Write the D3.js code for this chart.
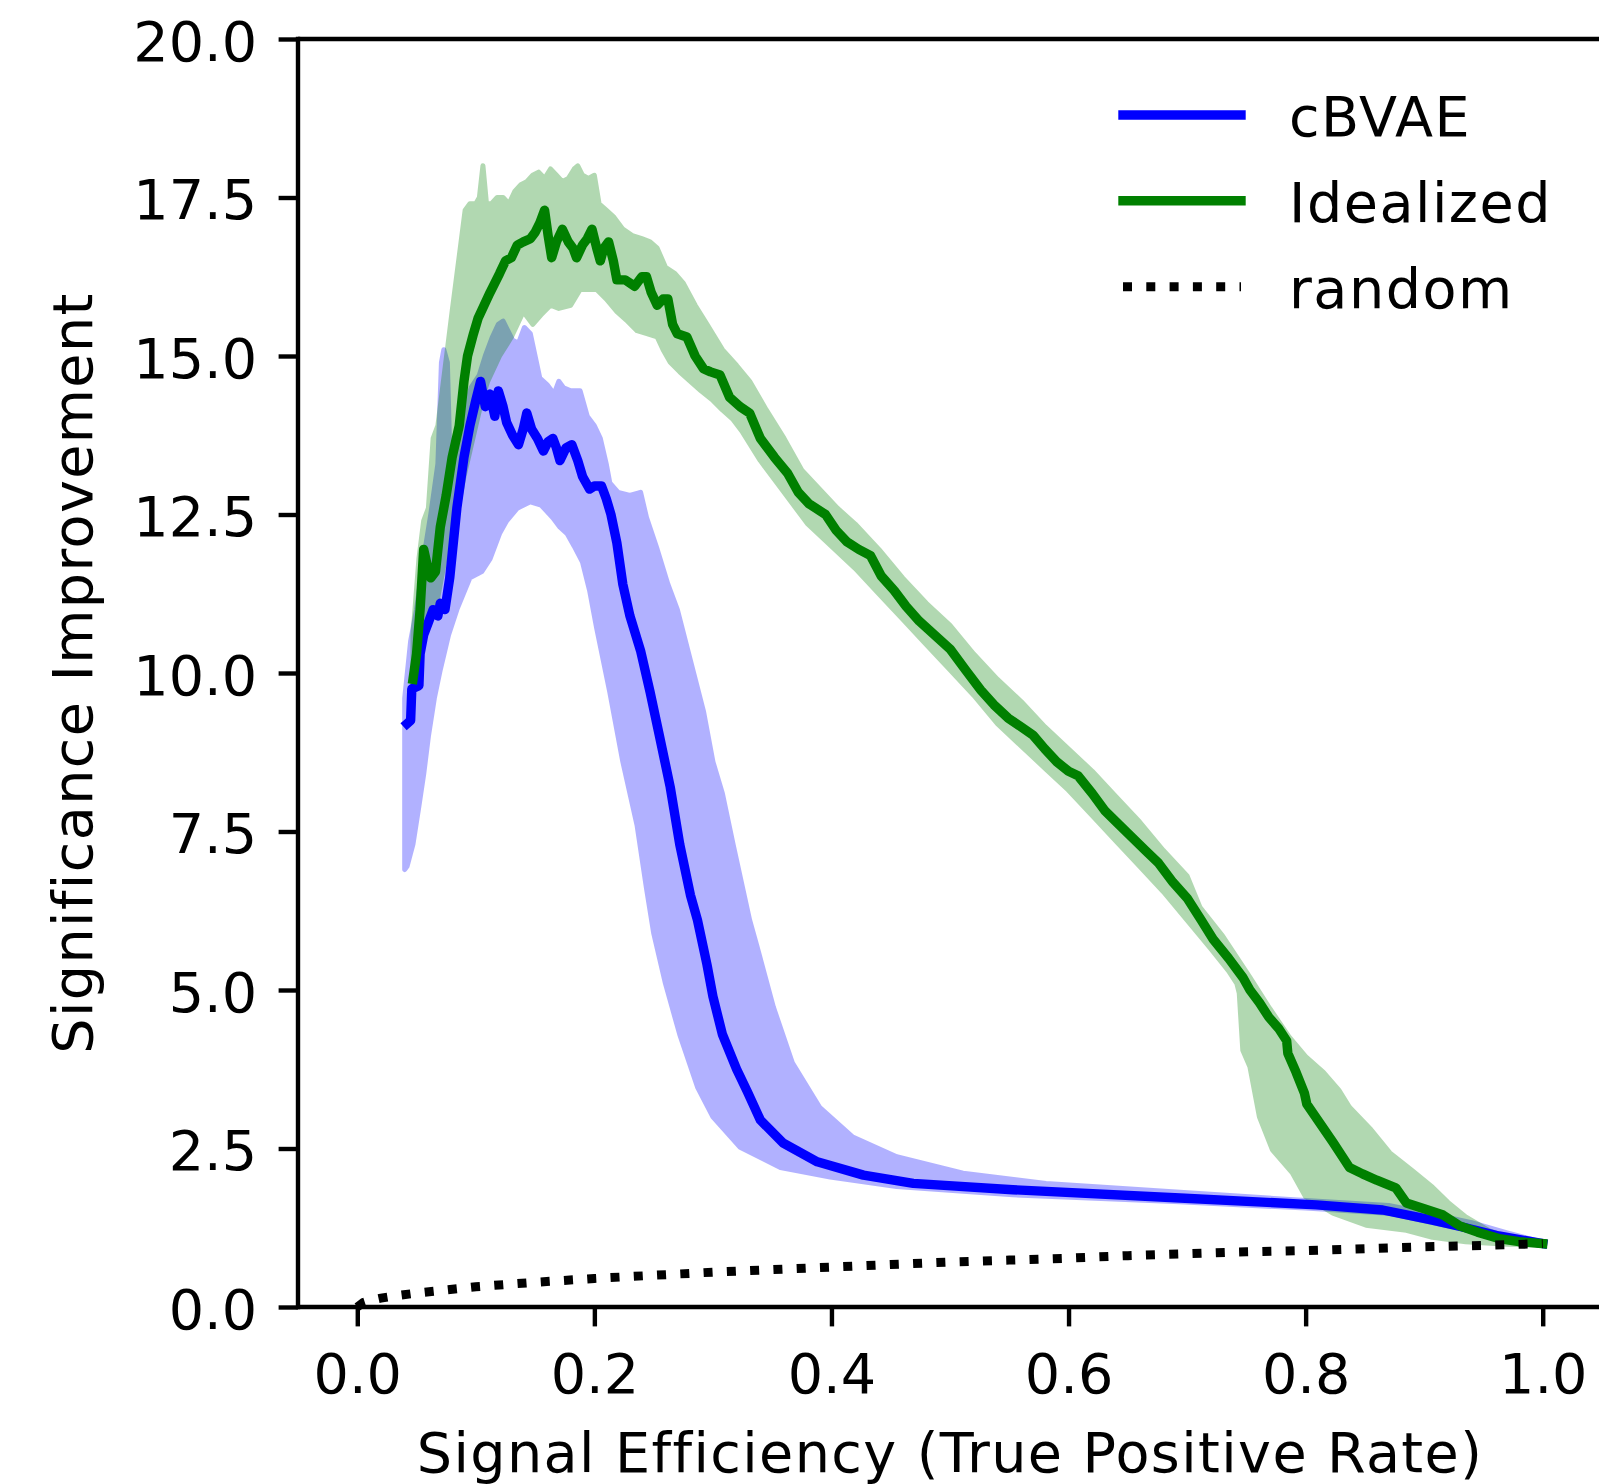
<!DOCTYPE html>
<html>
<head>
<meta charset="utf-8">
<script src="https://cdn.jsdelivr.net/npm/d3@7"></script>
<style>
  body { margin: 0; background: #fff; }
  svg { display: block; font-family: "DejaVu Sans", sans-serif; }
</style>
</head>
<body>
<div id="chart"></div>
<script>
// values

// cBVAE mean curve
cbvaeX = [0.042, 0.045, 0.046, 0.052, 0.053, 0.056, 0.060, 0.064, 0.068, 0.070, 0.074, 0.078, 0.084, 0.090, 0.095, 0.100, 0.104, 0.108, 0.112, 0.116, 0.119, 0.123, 0.126, 0.131, 0.136, 0.140, 0.143, 0.147, 0.152, 0.157, 0.161, 0.165, 0.168, 0.171, 0.176, 0.181, 0.186, 0.190, 0.196, 0.200, 0.206, 0.210, 0.214, 0.219, 0.224, 0.230, 0.239, 0.247, 0.255, 0.264, 0.272, 0.281, 0.287, 0.295, 0.300, 0.308, 0.320, 0.329, 0.340, 0.359, 0.388, 0.427, 0.469, 0.553, 0.694, 0.809, 0.865, 0.907, 0.935, 0.963, 1.0];
cbvaeY = [9.2, 9.25, 9.75, 9.8, 10.3, 10.6, 10.8, 11.0, 10.9, 11.1, 11.0, 11.5, 12.6, 13.4, 13.9, 14.3, 14.6, 14.2, 14.4, 14.05, 14.45, 14.2, 13.95, 13.75, 13.6, 13.85, 14.1, 13.85, 13.7, 13.5, 13.65, 13.7, 13.55, 13.35, 13.55, 13.6, 13.35, 13.1, 12.9, 12.95, 12.95, 12.75, 12.5, 12.05, 11.4, 10.9, 10.35, 9.7, 9.0, 8.2, 7.3, 6.5, 6.1, 5.4, 4.9, 4.3, 3.75, 3.4, 2.95, 2.59, 2.29, 2.08, 1.95, 1.85, 1.72, 1.61, 1.53, 1.37, 1.25, 1.12, 1.0];

// cBVAE spread
cbvaeUpX = [0.040, 0.045, 0.050, 0.056, 0.062, 0.068, 0.071, 0.073, 0.076, 0.078, 0.084, 0.090, 0.096, 0.103, 0.108, 0.114, 0.119, 0.123, 0.127, 0.131, 0.136, 0.141, 0.146, 0.150, 0.154, 0.160, 0.166, 0.170, 0.174, 0.180, 0.188, 0.194, 0.200, 0.205, 0.210, 0.213, 0.220, 0.230, 0.239, 0.244, 0.253, 0.262, 0.270, 0.281, 0.292, 0.300, 0.308, 0.317, 0.331, 0.337, 0.351, 0.367, 0.390, 0.418, 0.455, 0.511, 0.581, 0.694, 0.800, 0.870, 0.910, 0.940, 0.970, 1.0];
cbvaeUpY = [9.6, 10.5, 11.0, 11.8, 12.5, 13.3, 14.9, 15.1, 14.9, 13.5, 13.8, 14.1, 14.5, 14.7, 15.0, 15.3, 15.5, 15.55, 15.4, 15.25, 15.2, 15.45, 15.35, 15.0, 14.65, 14.55, 14.4, 14.6, 14.5, 14.45, 14.45, 14.05, 13.9, 13.7, 13.3, 13.0, 12.85, 12.8, 12.85, 12.45, 11.95, 11.4, 11.0, 10.2, 9.4, 8.6, 8.1, 7.3, 6.1, 5.7, 4.73, 3.85, 3.15, 2.68, 2.37, 2.11, 1.95, 1.81, 1.68, 1.6, 1.45, 1.33, 1.17, 1.02];
cbvaeLowX = [0.040, 0.042, 0.047, 0.052, 0.056, 0.060, 0.065, 0.070, 0.077, 0.084, 0.095, 0.105, 0.112, 0.120, 0.126, 0.135, 0.146, 0.155, 0.165, 0.171, 0.177, 0.183, 0.190, 0.196, 0.202, 0.213, 0.224, 0.236, 0.244, 0.250, 0.260, 0.272, 0.287, 0.300, 0.323, 0.357, 0.399, 0.455, 0.553, 0.694, 0.800, 0.870, 0.910, 0.940, 0.970, 1.0];
cbvaeLowY = [6.9, 6.95, 7.3, 7.9, 8.4, 9.0, 9.6, 10.05, 10.6, 11.0, 11.5, 11.6, 11.8, 12.2, 12.4, 12.6, 12.7, 12.65, 12.45, 12.3, 12.2, 12.0, 11.75, 11.3, 10.7, 9.7, 8.6, 7.6, 6.6, 5.9, 5.1, 4.3, 3.47, 3.0, 2.52, 2.2, 2.05, 1.9, 1.77, 1.66, 1.56, 1.48, 1.32, 1.2, 1.08, 0.98];

// Idealized mean curve
idealX = [0.047, 0.050, 0.053, 0.056, 0.059, 0.062, 0.066, 0.070, 0.075, 0.080, 0.086, 0.090, 0.093, 0.098, 0.102, 0.107, 0.112, 0.116, 0.120, 0.125, 0.130, 0.135, 0.140, 0.146, 0.150, 0.154, 0.158, 0.161, 0.164, 0.168, 0.173, 0.178, 0.182, 0.185, 0.190, 0.194, 0.198, 0.202, 0.205, 0.208, 0.212, 0.216, 0.219, 0.226, 0.234, 0.240, 0.244, 0.248, 0.253, 0.258, 0.262, 0.266, 0.270, 0.278, 0.285, 0.292, 0.298, 0.306, 0.314, 0.323, 0.331, 0.340, 0.352, 0.363, 0.372, 0.381, 0.395, 0.404, 0.413, 0.423, 0.433, 0.442, 0.453, 0.463, 0.474, 0.487, 0.500, 0.513, 0.526, 0.537, 0.549, 0.560, 0.570, 0.580, 0.590, 0.600, 0.608, 0.620, 0.631, 0.643, 0.654, 0.665, 0.676, 0.688, 0.700, 0.712, 0.722, 0.735, 0.747, 0.753, 0.761, 0.769, 0.777, 0.784, 0.785, 0.792, 0.799, 0.801, 0.812, 0.823, 0.837, 0.848, 0.860, 0.876, 0.885, 0.900, 0.916, 0.930, 0.945, 0.963, 0.980, 1.0];
idealY = [9.9, 10.3, 11.0, 11.95, 11.7, 11.5, 11.6, 12.3, 12.8, 13.4, 13.9, 14.6, 15.0, 15.35, 15.6, 15.8, 16.0, 16.15, 16.3, 16.5, 16.55, 16.75, 16.8, 16.85, 16.95, 17.1, 17.3, 16.9, 16.55, 16.8, 17.0, 16.8, 16.7, 16.55, 16.75, 16.85, 17.0, 16.7, 16.5, 16.7, 16.8, 16.5, 16.2, 16.2, 16.1, 16.25, 16.25, 16.0, 15.8, 15.9, 15.9, 15.5, 15.35, 15.3, 15.0, 14.8, 14.75, 14.7, 14.35, 14.2, 14.1, 13.7, 13.4, 13.15, 12.85, 12.67, 12.5, 12.25, 12.07, 11.95, 11.85, 11.53, 11.3, 11.05, 10.82, 10.6, 10.38, 10.05, 9.73, 9.5, 9.29, 9.15, 9.02, 8.8, 8.6, 8.45, 8.38, 8.1, 7.82, 7.6, 7.4, 7.2, 7.0, 6.7, 6.45, 6.1, 5.8, 5.5, 5.2, 5.0, 4.8, 4.57, 4.4, 4.2, 4.0, 3.7, 3.37, 3.2, 2.9, 2.6, 2.2, 2.1, 2.0, 1.88, 1.64, 1.55, 1.45, 1.28, 1.18, 1.08, 1.03, 1.0];

// Idealized spread
idealUpX = [0.047, 0.052, 0.056, 0.060, 0.064, 0.068, 0.080, 0.091, 0.095, 0.100, 0.103, 0.106, 0.109, 0.113, 0.118, 0.123, 0.128, 0.133, 0.138, 0.143, 0.148, 0.153, 0.158, 0.163, 0.168, 0.173, 0.178, 0.183, 0.186, 0.190, 0.195, 0.200, 0.204, 0.210, 0.216, 0.224, 0.232, 0.240, 0.247, 0.253, 0.260, 0.268, 0.275, 0.285, 0.295, 0.308, 0.320, 0.331, 0.345, 0.360, 0.375, 0.390, 0.405, 0.420, 0.440, 0.460, 0.480, 0.500, 0.520, 0.540, 0.560, 0.580, 0.600, 0.620, 0.640, 0.660, 0.680, 0.700, 0.711, 0.730, 0.753, 0.770, 0.786, 0.800, 0.815, 0.828, 0.837, 0.855, 0.871, 0.890, 0.907, 0.920, 0.935, 0.955, 0.977, 1.0];
idealUpY = [10.6, 11.8, 12.4, 12.6, 13.7, 13.9, 15.7, 17.3, 17.4, 17.4, 17.5, 18.0, 17.4, 17.4, 17.5, 17.5, 17.4, 17.6, 17.7, 17.75, 17.85, 17.9, 17.8, 17.95, 17.85, 17.75, 17.8, 17.95, 18.0, 17.85, 17.8, 17.85, 17.4, 17.3, 17.2, 17.0, 16.9, 16.85, 16.8, 16.7, 16.4, 16.3, 16.15, 15.8, 15.5, 15.1, 14.85, 14.6, 14.15, 13.7, 13.2, 12.9, 12.6, 12.35, 11.95, 11.5, 11.1, 10.75, 10.3, 9.9, 9.55, 9.15, 8.8, 8.45, 8.05, 7.65, 7.2, 6.8, 6.3, 5.85, 5.2, 4.7, 4.26, 3.95, 3.7, 3.42, 3.15, 2.8, 2.43, 2.15, 1.89, 1.65, 1.42, 1.2, 1.06, 1.0];
idealLowX = [0.047, 0.052, 0.056, 0.060, 0.065, 0.070, 0.075, 0.080, 0.085, 0.090, 0.095, 0.100, 0.105, 0.110, 0.120, 0.130, 0.140, 0.148, 0.155, 0.163, 0.170, 0.180, 0.188, 0.195, 0.202, 0.210, 0.219, 0.228, 0.236, 0.245, 0.253, 0.258, 0.264, 0.272, 0.281, 0.290, 0.300, 0.308, 0.317, 0.325, 0.340, 0.360, 0.380, 0.400, 0.420, 0.440, 0.460, 0.480, 0.500, 0.520, 0.540, 0.560, 0.580, 0.600, 0.620, 0.640, 0.660, 0.680, 0.700, 0.720, 0.735, 0.742, 0.744, 0.747, 0.753, 0.761, 0.772, 0.789, 0.800, 0.823, 0.851, 0.885, 0.907, 0.935, 0.970, 1.0];
idealLowY = [9.7, 10.2, 10.8, 11.0, 10.9, 11.4, 11.9, 12.3, 12.6, 13.1, 13.5, 13.9, 14.3, 14.6, 15.0, 15.3, 15.7, 15.5, 15.65, 15.8, 15.75, 15.8, 16.05, 16.05, 16.05, 15.9, 15.7, 15.55, 15.4, 15.35, 15.3, 15.1, 14.9, 14.75, 14.6, 14.45, 14.3, 14.15, 14.0, 13.8, 13.35, 12.85, 12.35, 12.0, 11.65, 11.25, 10.85, 10.45, 10.05, 9.65, 9.2, 8.85, 8.5, 8.15, 7.75, 7.35, 6.95, 6.55, 6.1, 5.65, 5.3, 5.1, 4.95, 4.05, 3.79, 3.0, 2.48, 2.11, 1.74, 1.48, 1.29, 1.21, 1.1, 1.03, 0.99, 0.98];

// random baseline
randomX = [0, 0.005, 0.01, 0.02, 0.03, 0.05, 0.075, 0.1, 0.15, 0.2, 0.25, 0.3, 0.35, 0.4, 0.45, 0.5, 0.55, 0.6, 0.65, 0.7, 0.75, 0.8, 0.85, 0.9, 0.95, 1.0];
randomY = [0, 0.07, 0.1, 0.14, 0.17, 0.22, 0.27, 0.32, 0.39, 0.45, 0.5, 0.55, 0.59, 0.63, 0.67, 0.71, 0.74, 0.77, 0.81, 0.84, 0.87, 0.89, 0.92, 0.95, 0.97, 1.0];

xTicks = [0.0, 0.2, 0.4, 0.6, 0.8, 1.0];
yTicks = [0.0, 2.5, 5.0, 7.5, 10.0, 12.5, 15.0, 17.5, 20.0];
legendLabels = ["cBVAE", "Idealized", "random"];

// layout
W = 1599; H = 1484;
plotL = 298; plotR = 1602; plotT = 39; plotB = 1307;
fs = 55.6;   // 10pt at 400 dpi
lw = 9.4;    // plot lines
dots = "9,14.3";
spine = 4.4; // spines and ticks

svg = d3.select("#chart").append("svg")
  .attr("width", W)
  .attr("height", H);

xScale = d3.scaleLinear().domain([-0.05, 1.05]).range([plotL, plotR]);
yScale = d3.scaleLinear().domain([0, 20]).range([plotB, plotT]);

line = d3.line().x(d => xScale(d[0])).y(d => yScale(d[1]));

function band(upX, upY, lowX, lowY) {
  pts = d3.zip(upX, upY).concat(d3.zip(lowX, lowY).reverse());
  return line(pts) + "Z";
}

// spread bands first, then the mean curves
svg.append("path")
  .attr("d", band(cbvaeUpX, cbvaeUpY, cbvaeLowX, cbvaeLowY))
  .attr("fill", "blue").attr("stroke", "blue").attr("stroke-width", 5)
  .attr("stroke-linejoin", "round").attr("opacity", 0.3);

svg.append("path")
  .attr("d", band(idealUpX, idealUpY, idealLowX, idealLowY))
  .attr("fill", "green").attr("stroke", "green").attr("stroke-width", 5)
  .attr("stroke-linejoin", "round").attr("opacity", 0.3);

svg.append("path")
  .attr("d", line(d3.zip(cbvaeX, cbvaeY)))
  .attr("fill", "none").attr("stroke", "blue").attr("stroke-width", lw)
  .attr("stroke-linejoin", "round").attr("stroke-linecap", "square");

svg.append("path")
  .attr("d", line(d3.zip(idealX, idealY)))
  .attr("fill", "none").attr("stroke", "green").attr("stroke-width", lw)
  .attr("stroke-linejoin", "round").attr("stroke-linecap", "square");

svg.append("path")
  .attr("d", line(d3.zip(randomX, randomY)))
  .attr("fill", "none").attr("stroke", "black").attr("stroke-width", 9)
  .attr("stroke-dasharray", dots).attr("stroke-linecap", "butt");

// axes
xAxis = svg.append("g")
  .attr("transform", "translate(0," + plotB + ")")
  .call(d3.axisBottom(xScale).tickValues(xTicks).tickFormat(d3.format(".1f"))
    .tickSize(19.4).tickSizeOuter(0).tickPadding(27));

yAxis = svg.append("g")
  .attr("transform", "translate(" + plotL + ",0)")
  .call(d3.axisLeft(yScale).tickValues(yTicks).tickFormat(d3.format(".1f"))
    .tickSize(19.4).tickSizeOuter(0).tickPadding(21.5));

[xAxis, yAxis].forEach(g => {
  g.select(".domain").remove();
  g.selectAll(".tick line").attr("stroke", "black").attr("stroke-width", spine);
  g.selectAll(".tick text")
    .attr("fill", "black")
    .style("font-size", fs + "px")
    .style("font-family", "DejaVu Sans");
});
yAxis.selectAll(".tick text").attr("dy", "0.38em");

// spines
svg.append("line").attr("x1", plotL).attr("x2", plotL).attr("y1", plotT - spine / 2).attr("y2", plotB + spine / 2)
  .attr("stroke", "black").attr("stroke-width", spine);
svg.append("line").attr("x1", plotL).attr("x2", plotR).attr("y1", plotB).attr("y2", plotB)
  .attr("stroke", "black").attr("stroke-width", spine);
svg.append("line").attr("x1", plotL).attr("x2", plotR).attr("y1", plotT).attr("y2", plotT)
  .attr("stroke", "black").attr("stroke-width", spine);
svg.append("line").attr("x1", plotR).attr("x2", plotR).attr("y1", plotT).attr("y2", plotB)
  .attr("stroke", "black").attr("stroke-width", spine);

// axis labels
svg.append("text")
  .attr("x", (plotL + plotR) / 2)
  .attr("y", 1472)
  .style("text-anchor", "middle")
  .style("font-size", fs + "px")
  .style("letter-spacing", "1.4px")
  .text("Signal Efficiency (True Positive Rate)");

svg.append("text")
  .attr("transform", "translate(92," + ((plotT + plotB) / 2) + ") rotate(-90)")
  .style("text-anchor", "middle")
  .style("font-size", fs + "px")
  .style("letter-spacing", "1.4px")
  .text("Significance Improvement");

// legend (no frame)
legendColors = ["blue", "green", "black"];
legendDash = [null, null, dots];
legendRowY = [115, 200.7, 286.7];

leg = svg.append("g");
legendLabels.forEach((lab, i) => {
  leg.append("line")
    .attr("x1", 1123).attr("x2", 1241)
    .attr("y1", legendRowY[i]).attr("y2", legendRowY[i])
    .attr("stroke", legendColors[i]).attr("stroke-width", legendDash[i] ? 9 : lw)
    .attr("stroke-dasharray", legendDash[i])
    .attr("stroke-linecap", legendDash[i] ? "butt" : "square");
  leg.append("text")
    .attr("x", 1289)
    .attr("y", legendRowY[i] + 21)
    .style("font-size", fs + "px")
    .style("letter-spacing", "1.5px")
    .text(lab);
});
</script>
</body>
</html>
